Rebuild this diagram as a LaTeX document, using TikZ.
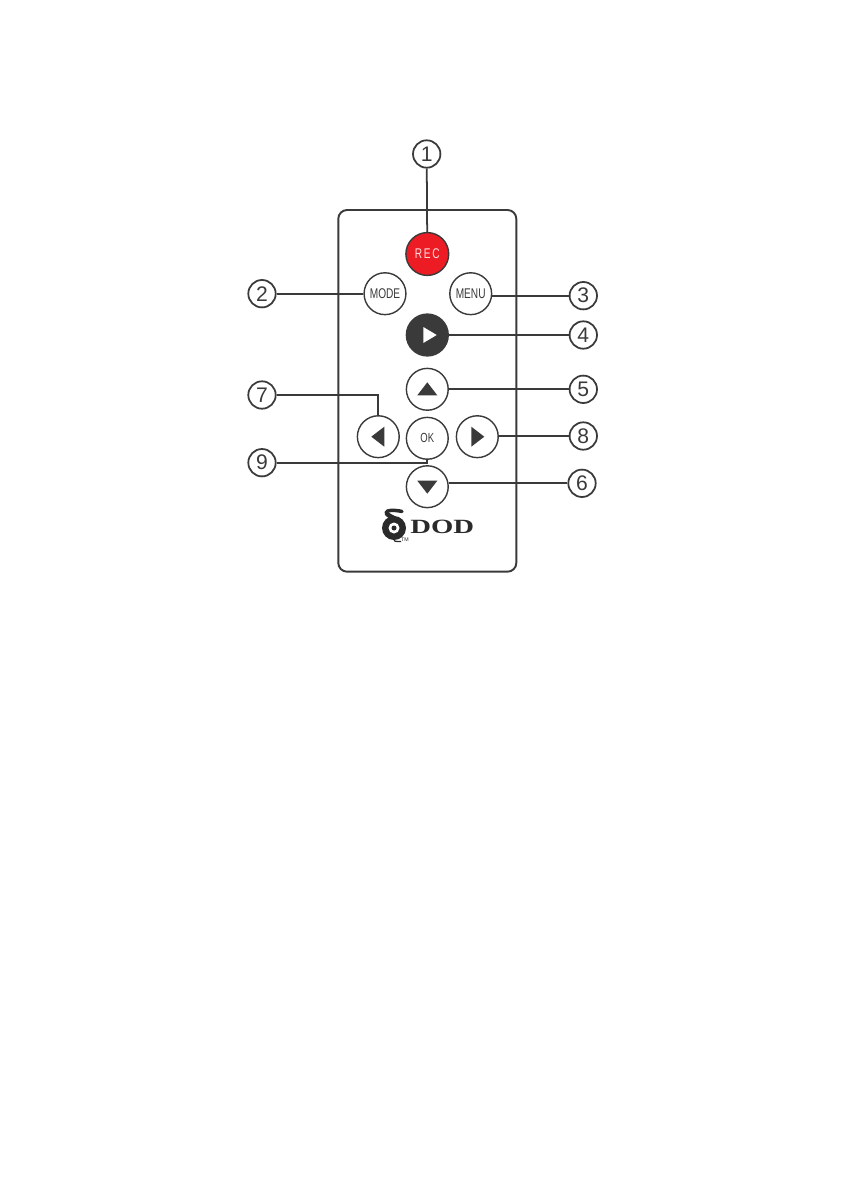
\documentclass[tikz,border=0pt]{standalone}
\usepackage{fontspec}
\setmainfont{Liberation Sans}
\newfontfamily\logofont{Liberation Serif}
\definecolor{inkline}{HTML}{3A3A3A}
\definecolor{logoink}{HTML}{2A2A2A}
\definecolor{recred}{HTML}{ED1C24}
\newcommand{\narrowtxt}[1]{\scalebox{0.72}[1]{#1}}
\tikzset{
  callout/.style={draw=inkline,line width=1pt,circle,inner sep=0pt,minimum size=27.5*0.567pt,font=\fontsize{12}{12}\selectfont,text=inkline},
  button/.style={draw=inkline,line width=0.8pt,circle,inner sep=0pt,minimum size=42*0.567pt,font=\fontsize{8}{8}\selectfont,text=inkline},
  leader/.style={draw=inkline,line width=1pt}
}
\begin{document}
\begin{tikzpicture}[x=0.02cm,y=-0.02cm]
  \useasboundingbox (0,0) rectangle (840,1190);
  \draw[inkline,line width=1.1pt,rounded corners=5pt] (338.3,210) rectangle (516.3,571.7);
  % buttons
  \node[button,fill=recred,text=white!85!recred,minimum size=43*0.567pt] (brec) at (427.3,254) {\narrowtxt{R\,E\,C}};
  \node[button] (bmode) at (385,293.7) {\narrowtxt{MODE}};
  \node[button] (bmenu) at (470.7,293.7) {\narrowtxt{MENU}};
  \node[button,fill=inkline] (bplay) at (427.3,335) {};
  \node[button] (bup) at (427.3,389.3) {};
  \node[button] (bleft) at (378.3,436.7) {};
  \node[button,font=\fontsize{7.5}{7.5}\selectfont] (bok) at (427.3,438.3) {\narrowtxt{OK}};
  \node[button] (bright) at (477.3,436.7) {};
  \node[button] (bdown) at (427.3,486.7) {};
  % arrows on the buttons
  \fill[white] ([shift={(-4,-8)}]bplay.center)--([shift={(9.4,0)}]bplay.center)--([shift={(-4,8)}]bplay.center)--cycle;
  \foreach \b/\a in {bup/90,bleft/180,bright/0,bdown/270}
    \fill[inkline,shift={(\b.center)},rotate=\a] (-6,-10)--(7,0)--(-6,10)--cycle;
  % numbers
  \foreach \n/\x/\y in {1/426.7/154,2/262/293.7,3/583.3/295.7,4/583.3/335,5/583.3/389.3,6/582/483.3,7/262/395,8/583.3/436,9/262/462.7}
    \node[callout] (n\n) at (\x,\y) {\n};
  \draw[leader] (n1)--(brec);
  \draw[leader] (n2)--(bmode);
  \draw[leader] (n3)--(n3-|bmenu.east);
  \draw[leader] (n4)--(bplay);
  \draw[leader] (n5)--(bup);
  \draw[leader] (n6)--(n6-|bdown.east);
  \draw[leader] (n7)-|(bleft);
  \draw[leader] (n8)--(n8-|bright.east);
  \draw[leader] (n9)-|(bok);
  % logo
  \node[logoink,inner sep=0pt,font=\logofont\bfseries\fontsize{11.5}{11.5}\selectfont] (ldod) at (442.3,527) {\scalebox{1.42}[1]{DOD}};
  \fill[logoink] (394,528) circle (12);
  \fill[white] (394,528) circle (5.5);
  \fill[logoink] (394,528) circle (2.5);
  \draw[logoink,line width=2pt,line cap=round] (386,513) .. controls (386,509.5) and (396,510) .. (402,511.5);
  \draw[logoink,line width=2.6pt] (386.5,513) .. controls (388,516) and (393,517) .. (397,520);
  \draw[logoink,line width=0.7pt] (397,538) .. controls (393,537) and (393,542) .. (397,541.5) -- (401,541.5);
  \node[logoink,inner sep=0pt,font=\fontsize{3}{3}\selectfont] (ltm) at (405,540) {TM};
\end{tikzpicture}
\end{document}
